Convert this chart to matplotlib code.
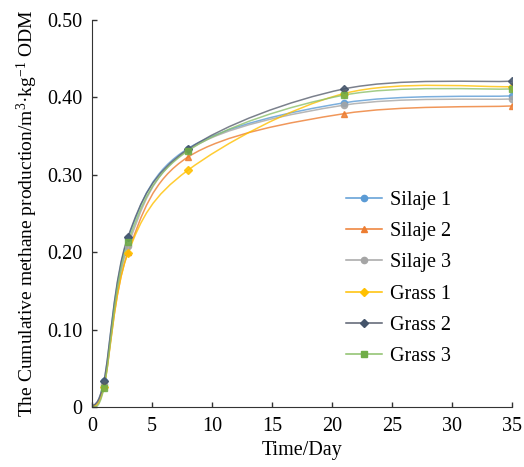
import matplotlib
matplotlib.use('Agg')
from matplotlib import pyplot as plt
from matplotlib.path import Path
from matplotlib.patches import PathPatch
from matplotlib.lines import Line2D

plt.rcParams['font.family'] = ['Liberation Serif', 'DejaVu Serif']
plt.rcParams['mathtext.fontset'] = 'custom'
plt.rcParams['mathtext.rm'] = 'Liberation Serif'
plt.rcParams['mathtext.it'] = 'Liberation Serif'

days = [0, 1, 3, 8, 21, 35]
silaje_1 = [0, 0.033, 0.218, 0.334, 0.393, 0.402]
silaje_2 = [0, 0.028, 0.200, 0.323, 0.379, 0.389]
silaje_3 = [0, 0.030, 0.208, 0.332, 0.390, 0.398]
grass_1 = [0, 0.026, 0.199, 0.306, 0.405, 0.414]
grass_2 = [0, 0.034, 0.220, 0.333, 0.411, 0.421]
grass_3 = [0, 0.025, 0.213, 0.331, 0.403, 0.411]

series = [
    ('Silaje 1', silaje_1, '#5B9BD5', '#5B9BD5', 'o', 4.5),
    ('Silaje 2', silaje_2, '#ED7D31', '#ED7D31', '^', 5),
    ('Silaje 3', silaje_3, '#A5A5A5', '#A5A5A5', 'o', 4.5),
    ('Grass 1', grass_1, '#FFC000', '#FFC000', 'D', 3.8),
    ('Grass 2', grass_2, '#5A6170', '#44546A', 'D', 4),
    ('Grass 3', grass_3, '#8CC06A', '#70AD47', 's', 4),
]


def smooth_path(x, y):
    # Excel-like smoothed line: cubic bezier through the points
    n = len(x)
    verts = [(x[0], y[0])]
    codes = [Path.MOVETO]
    for i in range(n - 1):
        p0 = max(i - 1, 0)
        p3 = min(i + 2, n - 1)
        c1 = (x[i] + (x[i + 1] - x[p0]) / 6, y[i] + (y[i + 1] - y[p0]) / 6)
        c2 = (x[i + 1] - (x[p3] - x[i]) / 6, y[i + 1] - (y[p3] - y[i]) / 6)
        verts += [c1, c2, (x[i + 1], y[i + 1])]
        codes += [Path.CURVE4] * 3
    return Path(verts, codes)


fig = plt.figure(figsize=(5.24, 4.67), dpi=100)
ax = fig.add_axes([0.1756, 0.1285, 0.801, 0.8285])

handles = []
for name, vals, lc, mc, mk, ms in series:
    patch = PathPatch(smooth_path(days, vals), facecolor='none', edgecolor=lc,
                      lw=1.1, alpha=0.8)
    ax.add_patch(patch)
    ax.plot(days[1:], vals[1:], ls='none', marker=mk, ms=ms, color=mc,
            alpha=0.85)
    handles.append(Line2D([], [], color=lc, lw=1.1, marker=mk, ms=ms,
                          markerfacecolor=mc, markeredgecolor=mc, label=name))

ax.set_xlim(0, 35)
ax.set_ylim(0, 0.5)
ax.set_xticks(range(0, 36, 5))
ax.set_yticks([0, 0.1, 0.2, 0.3, 0.4, 0.5])
ax.set_yticklabels(['0', '0.10', '0.20', '0.30', '0.40', '0.50'])
ax.tick_params(labelsize=14.5, direction='in', length=3.5, width=1,
               color='#333333', pad=7)
for s in ['top', 'right']:
    ax.spines[s].set_visible(False)
for s in ['left', 'bottom']:
    ax.spines[s].set_color('#333333')
ax.set_xlabel('Time/Day', fontsize=14.5, labelpad=4)
ax.set_ylabel('The Cumulative methane production/m$^{3}$·kg$^{\\mathrm{-1}}$ ODM',
              fontsize=14, labelpad=5)

ax.legend(handles=handles, loc='center left', bbox_to_anchor=(0.563, 0.332),
          frameon=False, fontsize=14.5, handlelength=1.75, labelspacing=0.6,
          handletextpad=0.4)

fig.savefig('out.png', dpi=100)
